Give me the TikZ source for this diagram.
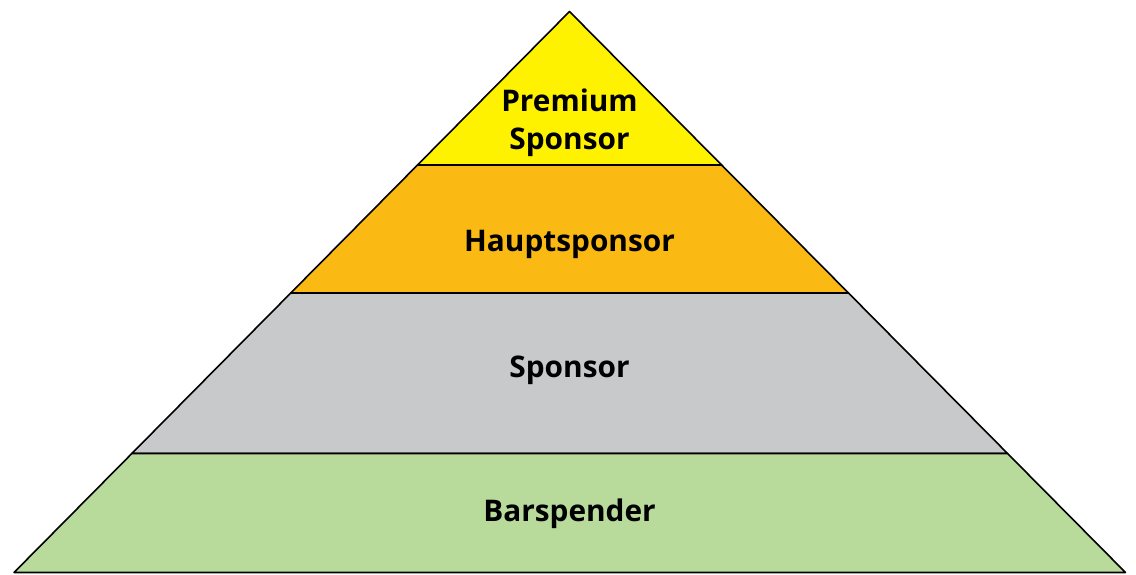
\documentclass[tikz,border=0pt]{standalone}
\usepackage{fontspec}
\setmainfont{Open Sans}
\usetikzlibrary{calc}
\definecolor{premiumfill}{HTML}{FFF200}
\definecolor{hauptfill}{HTML}{FBB913}
\definecolor{sponsorfill}{HTML}{C8C9CB}
\definecolor{barfill}{HTML}{B8DB9C}
\tikzset{
  layer/.style={draw=black,line width=1.6pt,line join=round},
  tier/.style={align=center,font=\bfseries\fontsize{29.8}{38}\selectfont}
}
\begin{document}
\begin{tikzpicture}[x=1pt,y=-1pt,line join=round,line cap=round]
	\useasboundingbox (0,0) rectangle (1136,574);
	\path
	(569.5,11.5) coordinate (T)
	(14,572.5) coordinate (BL)
	(1125.5,572.5) coordinate (BR)
	($(T)!0.2736!(BL)$) coordinate (L1)
	($(T)!0.2736!(BR)$) coordinate (R1)
	($(T)!0.5018!(BL)$) coordinate (L2)
	($(T)!0.5018!(BR)$) coordinate (R2)
	($(T)!0.7879!(BL)$) coordinate (L3)
	($(T)!0.7879!(BR)$) coordinate (R3);
	% layers from top to bottom
	\draw[layer,fill=premiumfill](T)--(L1)--(R1)--cycle;
	\draw[layer,fill=hauptfill](L1)--(L2)--(R2)--(R1)--cycle;
	\draw[layer,fill=sponsorfill](L2)--(L3)--(R3)--(R2)--cycle;
	\draw[layer,fill=barfill](L3)--(BL)--(BR)--(R3)--cycle;
	\node[tier] (premium) at (569.5,123) {Premium\\Sponsor};
	\node[tier] (haupt) at (569.5,244) {Hauptsponsor};
	\node[tier] (sponsor) at (569.5,370) {Sponsor};
	\node[tier] (bar) at (569.5,514) {Barspender};
\end{tikzpicture}
\end{document}
